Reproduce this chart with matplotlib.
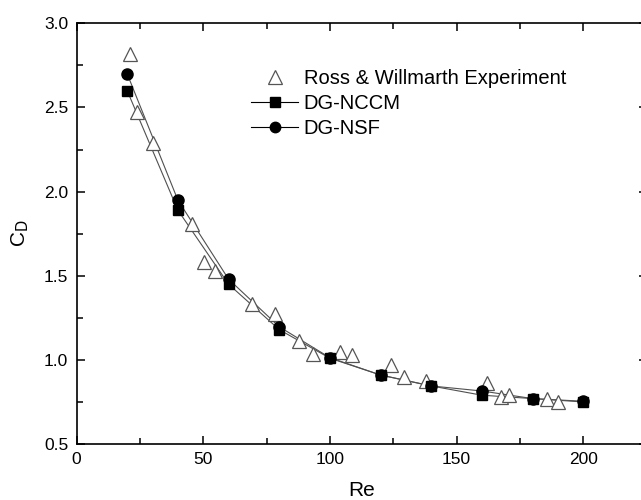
import matplotlib
matplotlib.use("Agg")
import matplotlib.pyplot as plt
from matplotlib.lines import Line2D

plt.rcParams['font.family'] = ['Liberation Sans', 'DejaVu Sans']

# Ross & Willmarth experiment
exp_re = [21.1, 23.8, 30.1, 45.7, 50.5, 54.8, 69.2, 78.4, 88.0, 93.2, 104.0, 108.6,
          124.2, 129.3, 137.9, 162.2, 167.6, 170.7, 185.6, 190.0]
exp_cd = [2.82, 2.47, 2.29, 1.81, 1.58, 1.53, 1.33, 1.27, 1.11, 1.035, 1.045, 1.027,
          0.97, 0.90, 0.875, 0.86, 0.78, 0.79, 0.766, 0.748]

# simulations
sim_re = [20, 40, 60, 80, 100, 120, 140, 160, 180, 200]
nccm_cd = [2.60, 1.89, 1.45, 1.18, 1.01, 0.91, 0.845, 0.79, 0.77, 0.75]
nsf_cd = [2.70, 1.95, 1.48, 1.197, 1.013, 0.91, 0.845, 0.815, 0.77, 0.754]

fig = plt.figure(figsize=(6.41, 5.0), dpi=100)
ax = fig.add_axes([76.5 / 641, 56 / 500, 570 / 641, 420.7 / 500])

for cd in (nccm_cd, nsf_cd):
    ax.plot(sim_re, cd, '-', color='#505050', lw=0.8, zorder=2)
ax.plot(exp_re, exp_cd, '^', ms=10, mfc='white', mec='#555555', mew=0.9, ls='none', zorder=3)
ax.plot(sim_re, nccm_cd, 's', ms=7, color='black', ls='none', zorder=4)
ax.plot(sim_re, nsf_cd, 'o', ms=8, color='black', ls='none', zorder=5)

ax.set_xlim(0, 225)
ax.set_ylim(0.5, 3.0)
ax.set_xticks([0, 50, 100, 150, 200])
ax.set_xticks([25, 75, 125, 175, 225], minor=True)
ax.set_yticks([0.5, 1.0, 1.5, 2.0, 2.5, 3.0])
ax.set_yticks([0.75, 1.25, 1.75, 2.25, 2.75], minor=True)
ax.tick_params(which='both', direction='in', top=True, right=True, labelsize=12.5, width=1.1)
ax.tick_params(which='major', length=6, pad=6)
ax.tick_params(which='minor', length=4)
for s in ax.spines.values():
    s.set_linewidth(1.2)

ax.set_xlabel('Re', fontsize=15, labelpad=10)
ax.set_ylabel('C$_\\mathrm{D}$', fontsize=15, labelpad=9)

handles = [
    Line2D([], [], marker='^', ms=10, mfc='white', mec='#555555', mew=0.9, ls='none'),
    Line2D([], [], marker='s', ms=6.5, color='black', lw=0.8, mfc='black', mec='black'),
    Line2D([], [], marker='o', ms=7.5, color='black', lw=0.8, mfc='black', mec='black'),
]
labels = ['Ross & Willmarth Experiment', 'DG-NCCM', 'DG-NSF']
ax.legend(handles, labels, loc='upper left', bbox_to_anchor=(0.275, 0.935), frameon=False,
          fontsize=14.5, handlelength=2.3, handletextpad=0.3, labelspacing=0.3)

fig.savefig('out.png', dpi=100)
